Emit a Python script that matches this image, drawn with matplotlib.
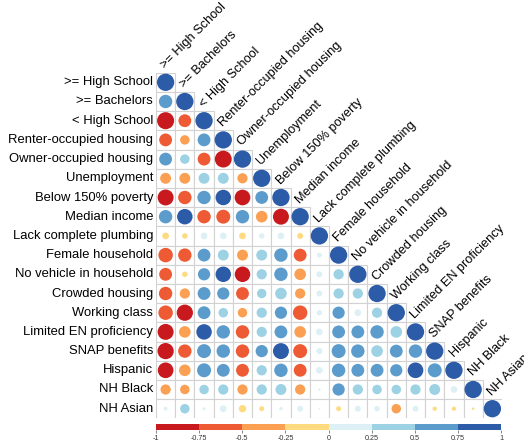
import numpy as np
import matplotlib
matplotlib.use("Agg")
import matplotlib.pyplot as plt
from matplotlib.patches import Circle, Rectangle
from matplotlib.colors import ListedColormap, BoundaryNorm

labels = [">= High School", ">= Bachelors", "< High School", "Renter-occupied housing",
          "Owner-occupied housing", "Unemployment", "Below 150% poverty", "Median income",
          "Lack complete plumbing", "Female household", "No vehicle in household",
          "Crowded housing", "Working class", "Limited EN proficiency", "SNAP benefits",
          "Hispanic", "NH Black", "NH Asian"]

# lower triangle, row i holds correlations with columns 0..i-1
lower = [
    [],
    [0.6],
    [-0.97, -0.55],
    [-0.55, -0.3, 0.55],
    [0.55, 0.3, -0.55, -0.95],
    [-0.4, -0.4, 0.4, 0.4, -0.35],
    [-0.85, -0.6, 0.6, 0.8, -0.82, 0.55],
    [0.6, 0.8, -0.6, -0.65, 0.6, -0.45, -0.85],
    [-0.15, -0.1, 0.15, 0.15, -0.15, 0.1, 0.15, -0.12],
    [-0.7, -0.6, 0.55, 0.4, -0.4, 0.4, 0.6, -0.55, 0.08],
    [-0.55, -0.1, 0.5, 0.8, -0.8, 0.35, 0.6, -0.45, 0.12, 0.35],
    [-0.6, -0.35, 0.55, 0.5, -0.55, 0.3, 0.45, -0.35, 0.12, 0.35, 0.35],
    [-0.7, -0.88, 0.55, 0.3, -0.3, 0.35, 0.5, -0.7, 0.1, 0.5, 0.15, 0.35],
    [-0.85, -0.45, 0.8, 0.6, -0.6, 0.35, 0.55, -0.45, 0.15, 0.55, 0.55, 0.6, 0.45],
    [-0.88, -0.6, 0.65, 0.6, -0.6, 0.5, 0.85, -0.65, 0.13, 0.65, 0.6, 0.45, 0.55, 0.6],
    [-0.82, -0.45, 0.65, 0.55, -0.55, 0.35, 0.6, -0.55, 0.15, 0.6, 0.55, 0.55, 0.5, 0.82, 0.65],
    [-0.35, -0.3, 0.3, 0.35, -0.35, 0.35, 0.4, -0.35, 0.02, 0.5, 0.35, 0.3, 0.3, 0.35, 0.4, 0.15],
    [0.05, 0.3, 0.03, 0.15, -0.18, -0.08, 0.04, 0.12, 0.01, -0.08, 0.12, 0.1, -0.3, 0.12, -0.06, -0.06, -0.02],
]

colors = ["#C8191E", "#EE5A34", "#FBA052", "#FEDA80", "#DDF0F6", "#9DD1E4", "#5C9CCC", "#2C5BA8"]
bounds = [-1, -0.75, -0.5, -0.25, 0, 0.25, 0.5, 0.75, 1]
cmap = ListedColormap(colors)
norm = BoundaryNorm(bounds, cmap.N)

plt.rcParams['font.family'] = ['Liberation Sans', 'DejaVu Sans']

fig = plt.figure(figsize=(5.24, 4.46), dpi=100)
ax = fig.add_axes([156/524, 1 - 418.3/446, 346/524, 345.6/446])
n = len(labels)

for i in range(n):
    row = lower[i] + [1.0]
    for j, v in enumerate(row):
        ax.add_patch(Rectangle((j - 0.5, i - 0.5), 1, 1, facecolor="white",
                               edgecolor="#D2D2D2", lw=0.8, zorder=1))
        ax.add_patch(Circle((j, i), 0.45 * np.sqrt(abs(v)), facecolor=cmap(norm(v)),
                            edgecolor="none", zorder=2))

for i, lab in enumerate(labels):
    ax.text(-0.65, i, lab, ha="right", va="center", fontsize=9.4, color="black")
    ax.text(i - 0.02, i - 0.68, lab, ha="left", va="baseline", rotation=45,
            rotation_mode="anchor", fontsize=9.2, color="black", clip_on=False)

ax.set_xlim(-0.5, n - 0.5)
ax.set_ylim(n - 0.5, -0.5)
ax.axis("off")

cax = fig.add_axes([156/524, 1 - 430/446, 345/524, 6/446])
sm = plt.cm.ScalarMappable(cmap=cmap, norm=norm)
cb = fig.colorbar(sm, cax=cax, orientation="horizontal", ticks=bounds)
cb.outline.set_visible(False)
cb.ax.set_xticklabels(["-1", "-0.75", "-0.5", "-0.25", "0", "0.25", "0.5", "0.75", "1"])
cb.ax.tick_params(labelsize=5.2, length=2, width=0.5, color="#555555", pad=1.5, labelcolor="#333333")

fig.savefig("out.png", dpi=100)
